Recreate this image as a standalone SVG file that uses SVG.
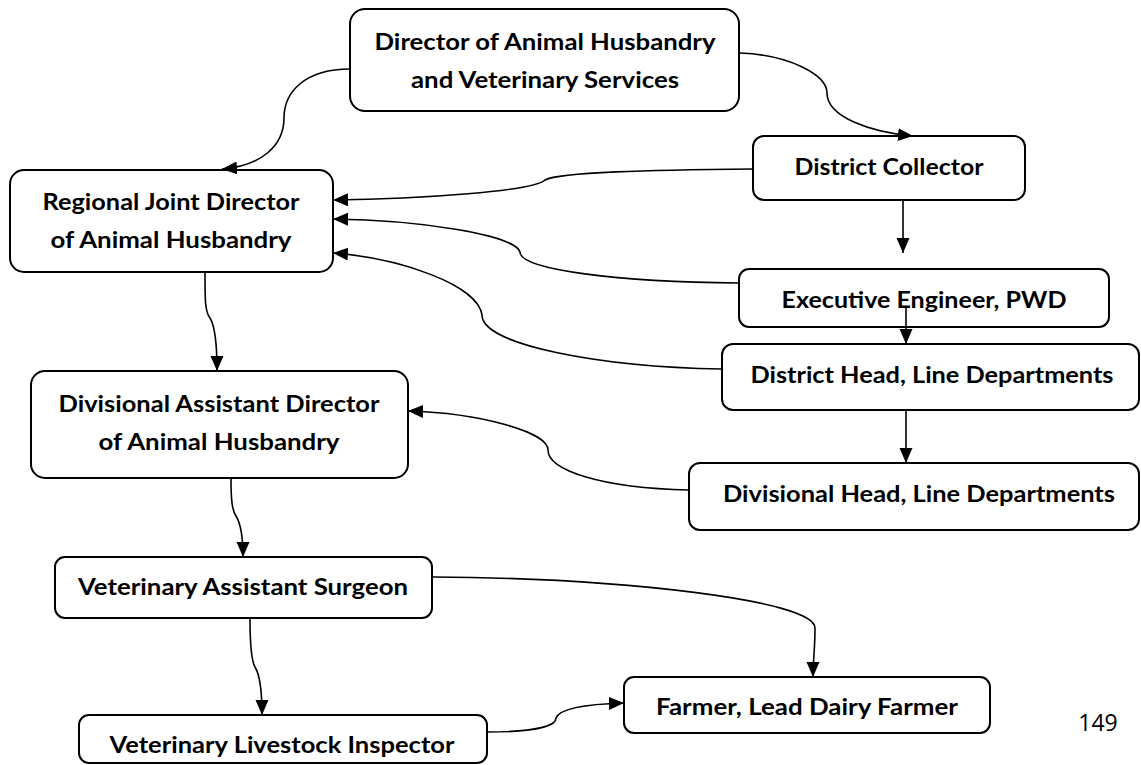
<svg xmlns="http://www.w3.org/2000/svg" width="1141" height="765" viewBox="0 0 1141 765">
  <style>
    .box { fill: #ffffff; stroke: #000000; stroke-width: 2; }
    .lbl { font-family: Lato, "Open Sans", "Liberation Sans", sans-serif; font-weight: bold; font-size: 23px; fill: #000000; text-anchor: middle; }
    .num { font-family: "Open Sans", "Liberation Sans", sans-serif; font-size: 23px; fill: #000000; text-anchor: middle; }
    .edge { fill: none; stroke: #000000; stroke-width: 1.6; marker-end: url(#arrow); }
  </style>
  <defs>
    <marker id="arrow" markerUnits="userSpaceOnUse" markerWidth="16" markerHeight="14" refX="15" refY="6.5" orient="auto">
      <path d="M0,0 L15,6.5 L0,13 Z" fill="#000000"/>
    </marker>
  </defs>
  <rect width="1141" height="765" fill="#ffffff"/>

  <g id="director">
    <rect class="box" x="350" y="9" width="389" height="102" rx="15"/>
    <text class="lbl" x="545" y="50" textLength="341" lengthAdjust="spacingAndGlyphs">Director of Animal Husbandry</text>
    <text class="lbl" x="545" y="88" textLength="268" lengthAdjust="spacingAndGlyphs">and Veterinary Services</text>
  </g>

  <g id="district-collector">
    <rect class="box" x="753" y="136" width="272" height="64" rx="11"/>
    <text class="lbl" x="889" y="175" textLength="189" lengthAdjust="spacingAndGlyphs">District Collector</text>
  </g>

  <g id="regional-joint-director">
    <rect class="box" x="10" y="170" width="323" height="102" rx="14"/>
    <text class="lbl" x="171" y="210" textLength="257" lengthAdjust="spacingAndGlyphs">Regional Joint Director</text>
    <text class="lbl" x="171" y="248" textLength="241" lengthAdjust="spacingAndGlyphs">of Animal Husbandry</text>
  </g>

  <g id="executive-engineer">
    <rect class="box" x="739" y="269" width="370" height="58" rx="10"/>
    <text class="lbl" x="924" y="308" textLength="285" lengthAdjust="spacingAndGlyphs">Executive Engineer, PWD</text>
  </g>

  <g id="district-head">
    <rect class="box" x="722" y="344" width="417" height="66" rx="11"/>
    <text class="lbl" x="932" y="383" textLength="363" lengthAdjust="spacingAndGlyphs">District Head, Line Departments</text>
  </g>

  <g id="divisional-assistant-director">
    <rect class="box" x="31" y="371" width="377" height="107" rx="14"/>
    <text class="lbl" x="219" y="412" textLength="321" lengthAdjust="spacingAndGlyphs">Divisional Assistant Director</text>
    <text class="lbl" x="219" y="450" textLength="241" lengthAdjust="spacingAndGlyphs">of Animal Husbandry</text>
  </g>

  <g id="divisional-head">
    <rect class="box" x="689" y="463" width="450" height="67" rx="11"/>
    <text class="lbl" x="919" y="502" textLength="392" lengthAdjust="spacingAndGlyphs">Divisional Head, Line Departments</text>
  </g>

  <g id="veterinary-assistant-surgeon">
    <rect class="box" x="55" y="557" width="377" height="61" rx="10"/>
    <text class="lbl" x="243" y="595" textLength="330" lengthAdjust="spacingAndGlyphs">Veterinary Assistant Surgeon</text>
  </g>

  <g id="veterinary-livestock-inspector">
    <rect class="box" x="79" y="715" width="408" height="48" rx="10"/>
    <text class="lbl" x="282" y="753" textLength="345" lengthAdjust="spacingAndGlyphs">Veterinary Livestock Inspector</text>
  </g>

  <g id="farmer">
    <rect class="box" x="624" y="677" width="366" height="56" rx="10"/>
    <text class="lbl" x="807" y="715" textLength="302" lengthAdjust="spacingAndGlyphs">Farmer, Lead Dairy Farmer</text>
  </g>

  <text class="num" x="1098" y="731">149</text>

  <!-- connectors sit on top of the boxes; the PWD arrow starts inside its box -->
  <g id="connectors">
    <!-- Director to Regional Joint Director -->
    <path class="edge" d="M350,69 C305,69 284,92 284,118 C284,145 262,166 222,169"/>
    <!-- Director to District Collector -->
    <path class="edge" d="M740,53 C790,55 827,75 827,93 C827,117 870,132 913,136"/>
    <!-- District Collector to Regional Joint Director -->
    <path class="edge" d="M753,169 C650,170 560,172 545,180 C535,191 420,199 333,200"/>
    <!-- Executive Engineer to Regional Joint Director -->
    <path class="edge" d="M739,283 C620,282 520,270 520,252 C515,235 420,220 333,219"/>
    <!-- District Head to Regional Joint Director -->
    <path class="edge" d="M722,369 C600,367 482,345 482,315 C478,285 400,258 333,253"/>
    <!-- District Collector down -->
    <path class="edge" d="M903,200 L903,253"/>
    <!-- Executive Engineer to District Head -->
    <path class="edge" d="M906,307 L906,344"/>
    <!-- District Head to Divisional Head -->
    <path class="edge" d="M906,410 L906,463"/>
    <!-- Divisional Head to Divisional Assistant Director -->
    <path class="edge" d="M689,490 C600,488 548,470 548,450 C548,432 480,413 408,411"/>
    <!-- Regional Joint Director to Divisional Assistant Director -->
    <path class="edge" d="M205,272 C205,300 205,312 210,318 C215,326 217,345 217,371"/>
    <!-- Divisional Assistant Director to Veterinary Assistant Surgeon -->
    <path class="edge" d="M231,478 C231,500 232,510 236,516 C241,524 243,535 243,557"/>
    <!-- Veterinary Assistant Surgeon to Veterinary Livestock Inspector -->
    <path class="edge" d="M250,618 C250,645 251,660 255,667 C260,675 262,690 262,715"/>
    <!-- Veterinary Assistant Surgeon to Farmer -->
    <path class="edge" d="M433,577 C620,578 815,600 815,628 C815,650 813,660 813,677"/>
    <!-- Veterinary Livestock Inspector to Farmer -->
    <path class="edge" d="M487,732 C540,732 556,725 556,718 C560,708 590,704 624,703"/>
  </g>
</svg>
